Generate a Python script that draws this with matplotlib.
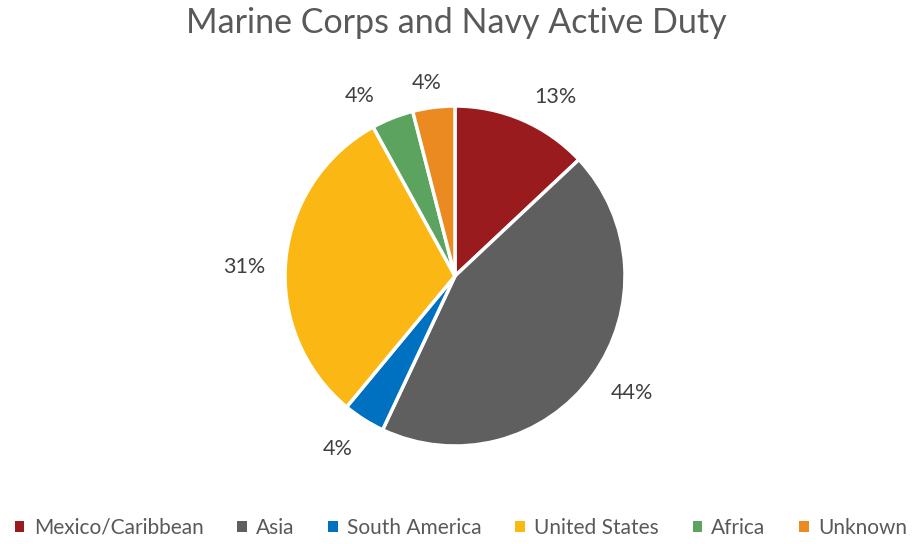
import matplotlib.pyplot as plt
from matplotlib.patches import Patch

plt.rcParams['font.family'] = ['Lato', 'DejaVu Sans']

# data
regions = ['Mexico/Caribbean', 'Asia', 'South America', 'United States', 'Africa', 'Unknown']
shares = [13, 44, 4, 31, 4, 4]
colors = ['#991B1E', '#5F5F60', '#0070C0', '#FBB814', '#5BA35F', '#EA8A20']

# label offsets from pie centre (Excel "best fit" placement)
label_offsets = [(100, 179), (177, -117), (-117, -173), (-211, 9), (-95, 180), (-28, 193)]

cx, cy = 455, 268

fig = plt.figure(figsize=(9.13, 5.44), dpi=100)
ax = fig.add_axes([0, 0, 1, 1])

wedges, texts = ax.pie(shares, colors=colors, startangle=90, counterclock=False,
                       center=(cx, cy), radius=170,
                       labels=[f'{v}%' for v in shares], labeldistance=1.23,
                       wedgeprops=dict(edgecolor='white', linewidth=2.5),
                       textprops=dict(color='#404040', fontsize=15.5))
for t, (dx, dy) in zip(texts, label_offsets):
    t.set_position((cx + dx, cy + dy))
    t.set_horizontalalignment('center')
    t.set_verticalalignment('center')

# pie resets limits, so set them after
ax.set_xlim(0, 913)
ax.set_ylim(0, 544)
ax.set_aspect('equal')
ax.axis('off')

ax.text(456, 521, 'Marine Corps and Navy Active Duty', ha='center', va='center',
        fontsize=24.5, color='#595959')

handles = [Patch(facecolor=c, edgecolor='none') for c in colors]
fig.legend(handles, regions, loc='center', bbox_to_anchor=(0.505, 0.03), ncol=6,
           frameon=False, fontsize=15, handlelength=0.45, handleheight=0.45,
           handletextpad=0.45, columnspacing=1.62, labelcolor='#595959')

fig.savefig('out.png', dpi=100)
